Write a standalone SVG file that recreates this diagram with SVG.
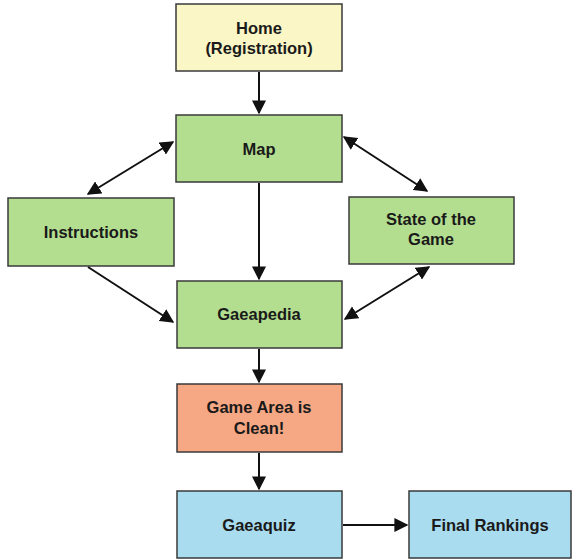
<svg xmlns="http://www.w3.org/2000/svg" width="572" height="560" viewBox="0 0 572 560">
<defs>
<style>
.box{stroke:#3a3a3a;stroke-width:1.5}
.y{fill:#fbf6c6}.g{fill:#b4de8f}.o{fill:#f6a783}.b{fill:#a9dcef}
text{font-family:"Liberation Sans",Arial,sans-serif;font-weight:bold;font-size:16.5px;fill:#1a1a1a;text-anchor:middle}
.c{stroke:#111;stroke-width:2;fill:none}
</style>
<marker id="ah" viewBox="0 0 10 10" refX="9" refY="5" markerWidth="7" markerHeight="7" orient="auto-start-reverse" markerUnits="strokeWidth">
<path d="M0,0 L10,5 L0,10 z" fill="#111"/>
</marker>
</defs>
<rect width="572" height="560" fill="#fff"/>
<g id="home"><rect class="box y" x="176" y="4" width="166" height="67"/><text x="259" y="34">Home</text><text x="259" y="54">(Registration)</text></g>
<g id="map"><rect class="box g" x="176" y="115" width="166" height="67"/><text x="259" y="155">Map</text></g>
<g id="instructions"><rect class="box g" x="8" y="198" width="166" height="68"/><text x="91" y="238">Instructions</text></g>
<g id="state"><rect class="box g" x="349" y="197" width="165" height="67"/><text x="431" y="225">State of the</text><text x="431" y="245">Game</text></g>
<g id="gaeapedia"><rect class="box g" x="177" y="281" width="165" height="67"/><text x="259" y="320">Gaeapedia</text></g>
<g id="gamearea"><rect class="box o" x="177" y="384" width="165" height="68"/><text x="259" y="413">Game Area is</text><text x="259" y="434">Clean!</text></g>
<g id="gaeaquiz"><rect class="box b" x="177" y="491" width="165" height="67"/><text x="259" y="531">Gaeaquiz</text></g>
<g id="final"><rect class="box b" x="409" y="491" width="162" height="67"/><text x="490" y="531">Final Rankings</text></g>
<g id="connectors">
<line class="c" x1="259" y1="72" x2="259" y2="113" marker-end="url(#ah)"/>
<line class="c" x1="259" y1="183" x2="259" y2="279" marker-end="url(#ah)"/>
<line class="c" x1="259" y1="349" x2="259" y2="382" marker-end="url(#ah)"/>
<line class="c" x1="259" y1="453" x2="259" y2="489" marker-end="url(#ah)"/>
<line class="c" x1="343" y1="525" x2="407" y2="525" marker-end="url(#ah)"/>
<line class="c" x1="88" y1="194" x2="173" y2="142" marker-start="url(#ah)" marker-end="url(#ah)"/>
<line class="c" x1="88" y1="267" x2="173" y2="322" marker-end="url(#ah)"/>
<line class="c" x1="344" y1="137" x2="427" y2="191" marker-start="url(#ah)" marker-end="url(#ah)"/>
<line class="c" x1="429" y1="267" x2="345" y2="319" marker-start="url(#ah)" marker-end="url(#ah)"/>
</g>
</svg>
